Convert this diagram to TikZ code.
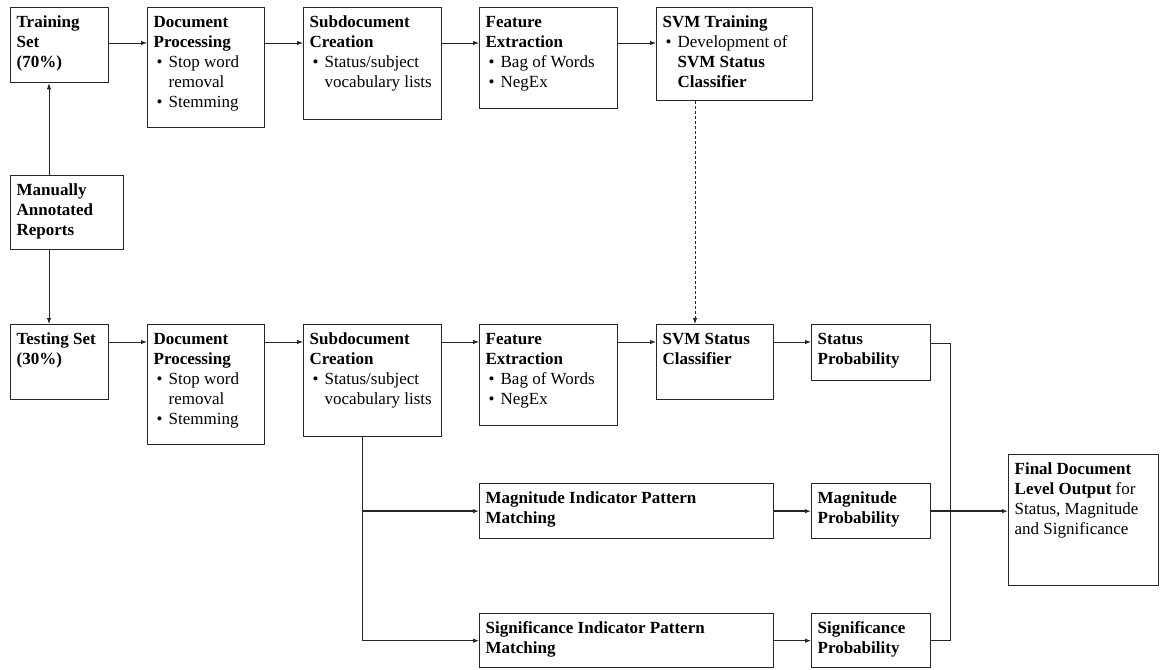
\documentclass[tikz,border=0pt]{standalone}
\usepackage{fontspec}
\setmainfont{Liberation Serif}
\usetikzlibrary{arrows.meta,calc}
\newcommand{\bxc}[3]{\parbox[t][#2][t]{#1}{\raggedright\strut #3}}
\newcommand{\itm}[1]{\par\noindent\hangindent=15pt\hangafter=1\makebox[15pt][l]{\hspace{3pt}\textbullet}#1}
\tikzset{
  bx/.style={draw=black!85, line width=1.3pt, inner xsep=6pt, inner ysep=6pt, anchor=north west,
    font=\fontsize{17}{20}\selectfont},
  ln/.style={line width=0.9pt, draw=black!85},
  arr/.style={ln, -{Latex[length=6pt,width=4.5pt]}},
  thk/.style={line width=1.7pt},
}
\begin{document}
\begin{tikzpicture}[x=1pt,y=-1pt]
\useasboundingbox (0,0) rectangle (1161,669);
% top row
\node[bx] (train) at (10,7) {\bxc{86pt}{63pt}{\textbf{Training}\\\textbf{Set}\\\textbf{(70\%)}}};
\node[bx] (dp1) at (147,7) {\bxc{105pt}{108pt}{\textbf{Document}\\\textbf{Processing}\itm{Stop word\newline removal}\itm{Stemming}}};
\node[bx] (sd1) at (303,7) {\bxc{126pt}{100pt}{\textbf{Subdocument}\\\textbf{Creation}\itm{Status/subject\newline vocabulary lists}}};
\node[bx] (fe1) at (479,7) {\bxc{126pt}{89pt}{\textbf{Feature}\\\textbf{Extraction}\itm{Bag of Words}\itm{NegEx}}};
\node[bx] (svmt) at (656,7) {\bxc{144pt}{81pt}{\textbf{SVM Training}\itm{Development of\newline\textbf{SVM Status}\newline\textbf{Classifier}}}};
% left
\node[bx] (man) at (10,175) {\bxc{101pt}{62pt}{\textbf{Manually}\\\textbf{Annotated}\\\textbf{Reports}}};
% second row
\node[bx] (test) at (10,324) {\bxc{86pt}{63pt}{\textbf{Testing Set}\\\textbf{(30\%)}}};
\node[bx] (dp2) at (147,324) {\bxc{105pt}{108pt}{\textbf{Document}\\\textbf{Processing}\itm{Stop word\newline removal}\itm{Stemming}}};
\node[bx] (sd2) at (303,324) {\bxc{126pt}{100pt}{\textbf{Subdocument}\\\textbf{Creation}\itm{Status/subject\newline vocabulary lists}}};
\node[bx] (fe2) at (479,324) {\bxc{126pt}{89pt}{\textbf{Feature}\\\textbf{Extraction}\itm{Bag of Words}\itm{NegEx}}};
\node[bx] (svms) at (656,324) {\bxc{105pt}{63pt}{\textbf{SVM Status}\\\textbf{Classifier}}};
\node[bx] (sp) at (811,324) {\bxc{107pt}{44pt}{\textbf{Status}\\\textbf{Probability}}};
% pattern rows
\node[bx] (mag) at (479,483) {\bxc{282pt}{43pt}{\textbf{Magnitude Indicator Pattern}\\\textbf{Matching}}};
\node[bx] (mp) at (811,483) {\bxc{107pt}{43pt}{\textbf{Magnitude}\\\textbf{Probability}}};
\node[bx] (sig) at (479,613) {\bxc{282pt}{42pt}{\textbf{Significance Indicator Pattern}\\\textbf{Matching}}};
\node[bx] (gp) at (811,613) {\bxc{107pt}{42pt}{\textbf{Significance}\\\textbf{Probability}}};
\node[bx] (fin) at (1008,454) {\bxc{138pt}{119pt}{\textbf{Final Document}\\\textbf{Level Output} for\\Status, Magnitude\\and Significance}};
% top row arrows
\draw[arr] ([yshift=-36pt]train.north east) -- ([yshift=-36pt]dp1.north west);
\draw[arr] ([yshift=-36pt]dp1.north east) -- ([yshift=-36pt]sd1.north west);
\draw[arr] ([yshift=-36pt]sd1.north east) -- ([yshift=-36pt]fe1.north west);
\draw[arr] ([yshift=-36pt]fe1.north east) -- ([yshift=-36pt]svmt.north west);
% second row arrows
\draw[arr] ([yshift=-18pt]test.north east) -- ([yshift=-18pt]dp2.north west);
\draw[arr] ([yshift=-18pt]dp2.north east) -- ([yshift=-18pt]sd2.north west);
\draw[arr] ([yshift=-18pt]sd2.north east) -- ([yshift=-18pt]fe2.north west);
\draw[arr] ([yshift=-18pt]fe2.north east) -- ([yshift=-18pt]svms.north west);
\draw[arr] ([yshift=-18pt]svms.north east) -- ([yshift=-18pt]sp.north west);
% dashed
\draw[arr, dash pattern=on 3pt off 2pt] ([xshift=39pt]svmt.south west) -- ([xshift=39pt]svms.north west);
% manual
\draw[arr] ([xshift=39pt]man.north west) -- ([xshift=39pt]train.south west);
\draw[arr] ([xshift=39pt]man.south west) -- ([xshift=39pt]test.north west);
% branch
\coordinate (br) at ([xshift=59pt]sd2.south west);
\draw[arr] (br) |- (sig.west);
\draw[arr, thk] (br |- mag.west) -- (mag.west);
\draw[arr, thk] (mag.east) -- (mp.west);
\draw[arr] (sig.east) -- (gp.west);
% merge
\coordinate (jn) at ([xshift=19pt]mp.east);
\draw[ln] ([yshift=-19pt]sp.north east) -| (jn);
\draw[ln] (gp.east) -| (jn);
\draw[arr, thk] (mp.east) -- (jn) -- (jn -| fin.west);
\end{tikzpicture}
\end{document}
